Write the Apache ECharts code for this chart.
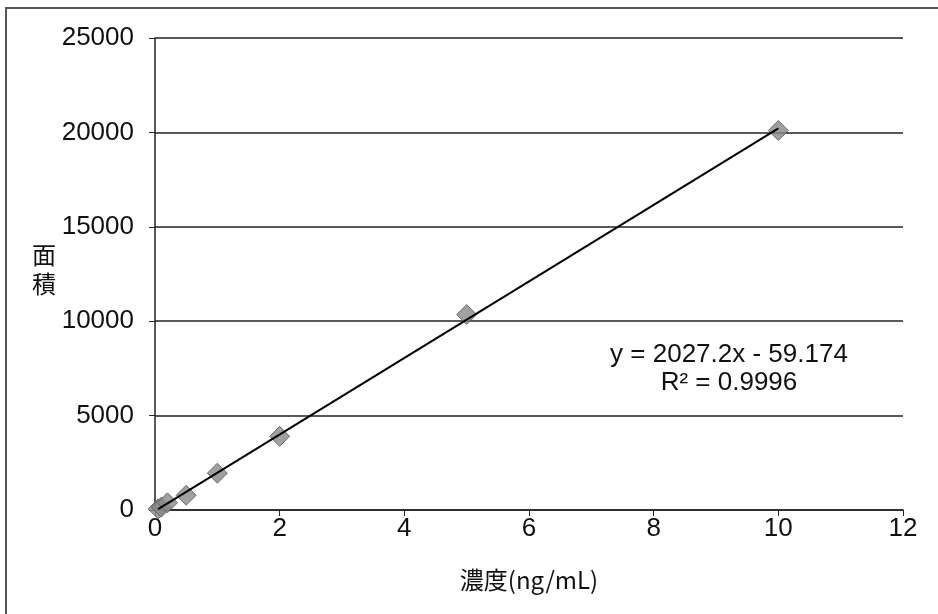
<!DOCTYPE html>
<html><head><meta charset="utf-8">
<script src="https://cdn.jsdelivr.net/npm/echarts@6/dist/echarts.min.js"></script>
<style>html,body{margin:0;padding:0;background:#fff}#c{width:938px;height:614px}</style>
</head><body><div id="c"></div>
<script>
const concX = [0.05, 0.1, 0.2, 0.5, 1, 2, 5, 10];
const areaY = [60, 150, 380, 780, 1950, 3900, 10350, 20100];
const trendX = [0.05, 10];
const trendY = [42, 20213];
const xTicks = [0, 2, 4, 6, 8, 10, 12];
const yTicks = [0, 5000, 10000, 15000, 20000, 25000];
const eqText = 'y = 2027.2x - 59.174';
const r2Text = 'R² = 0.9996';
const xName = '濃度(ng/mL)';
const yName = '面\n積';

const font = '"Liberation Sans", Arial, sans-serif';
const chart = echarts.init(document.getElementById('c'));
chart.setOption({
  animation: false,
  backgroundColor: '#fff',
  grid: {left: 155, right: 35, top: 38, bottom: 104},
  xAxis: {
    type: 'value', min: xTicks[0], max: xTicks[xTicks.length-1], interval: 2,
    name: xName, nameLocation: 'middle', nameGap: 58,
    nameTextStyle: {fontFamily: '"Noto Sans CJK JP", ' + font, fontSize: 24, color: '#111'},
    axisLine: {show: true, lineStyle: {color: '#222', width: 1.5}},
    axisTick: {show: true, length: 6, lineStyle: {color: '#222'}},
    axisLabel: {fontFamily: font, fontSize: 26, color: '#111', margin: 6},
    splitLine: {show: false}
  },
  yAxis: {
    type: 'value', min: yTicks[0], max: yTicks[yTicks.length-1], interval: 5000,
    axisLine: {show: true, lineStyle: {color: '#222', width: 1.5}},
    axisTick: {show: true, length: 6, lineStyle: {color: '#222'}},
    axisLabel: {fontFamily: font, fontSize: 26, color: '#111', margin: 21, formatter: v => String(v)},
    splitLine: {show: true, lineStyle: {color: '#222', width: 1.5}}
  },
  graphic: [
    {type: 'rect', shape: {x: 6, y: 8, width: 1000, height: 700}, style: {fill: 'none', stroke: '#555', lineWidth: 2}, z: -1},
    {type: 'text', left: 32, top: 240, style: {text: yName, fontFamily: '"Noto Sans CJK JP", sans-serif', fontSize: 24, fill: '#111', lineHeight: 29}},
    {type: 'text', x: 729, y: 355, style: {text: eqText, fontFamily: font, fontSize: 26, fill: '#111', textAlign: 'center', textVerticalAlign: 'middle'}},
    {type: 'text', x: 729, y: 383, style: {text: r2Text, fontFamily: font, fontSize: 26, fill: '#111', textAlign: 'center', textVerticalAlign: 'middle'}}
  ],
  series: [
    {type: 'line', data: trendX.map((x, i) => [x, trendY[i]]), showSymbol: false, symbol: 'none',
     lineStyle: {color: '#000', width: 2}, clip: false, z: 3},
    {type: 'scatter', data: concX.map((x, i) => [x, areaY[i]]), symbol: 'diamond', symbolSize: [20, 20],
     itemStyle: {color: '#888', borderColor: '#555', borderWidth: 1}, z: 2}
  ]
});
</script></body></html>
